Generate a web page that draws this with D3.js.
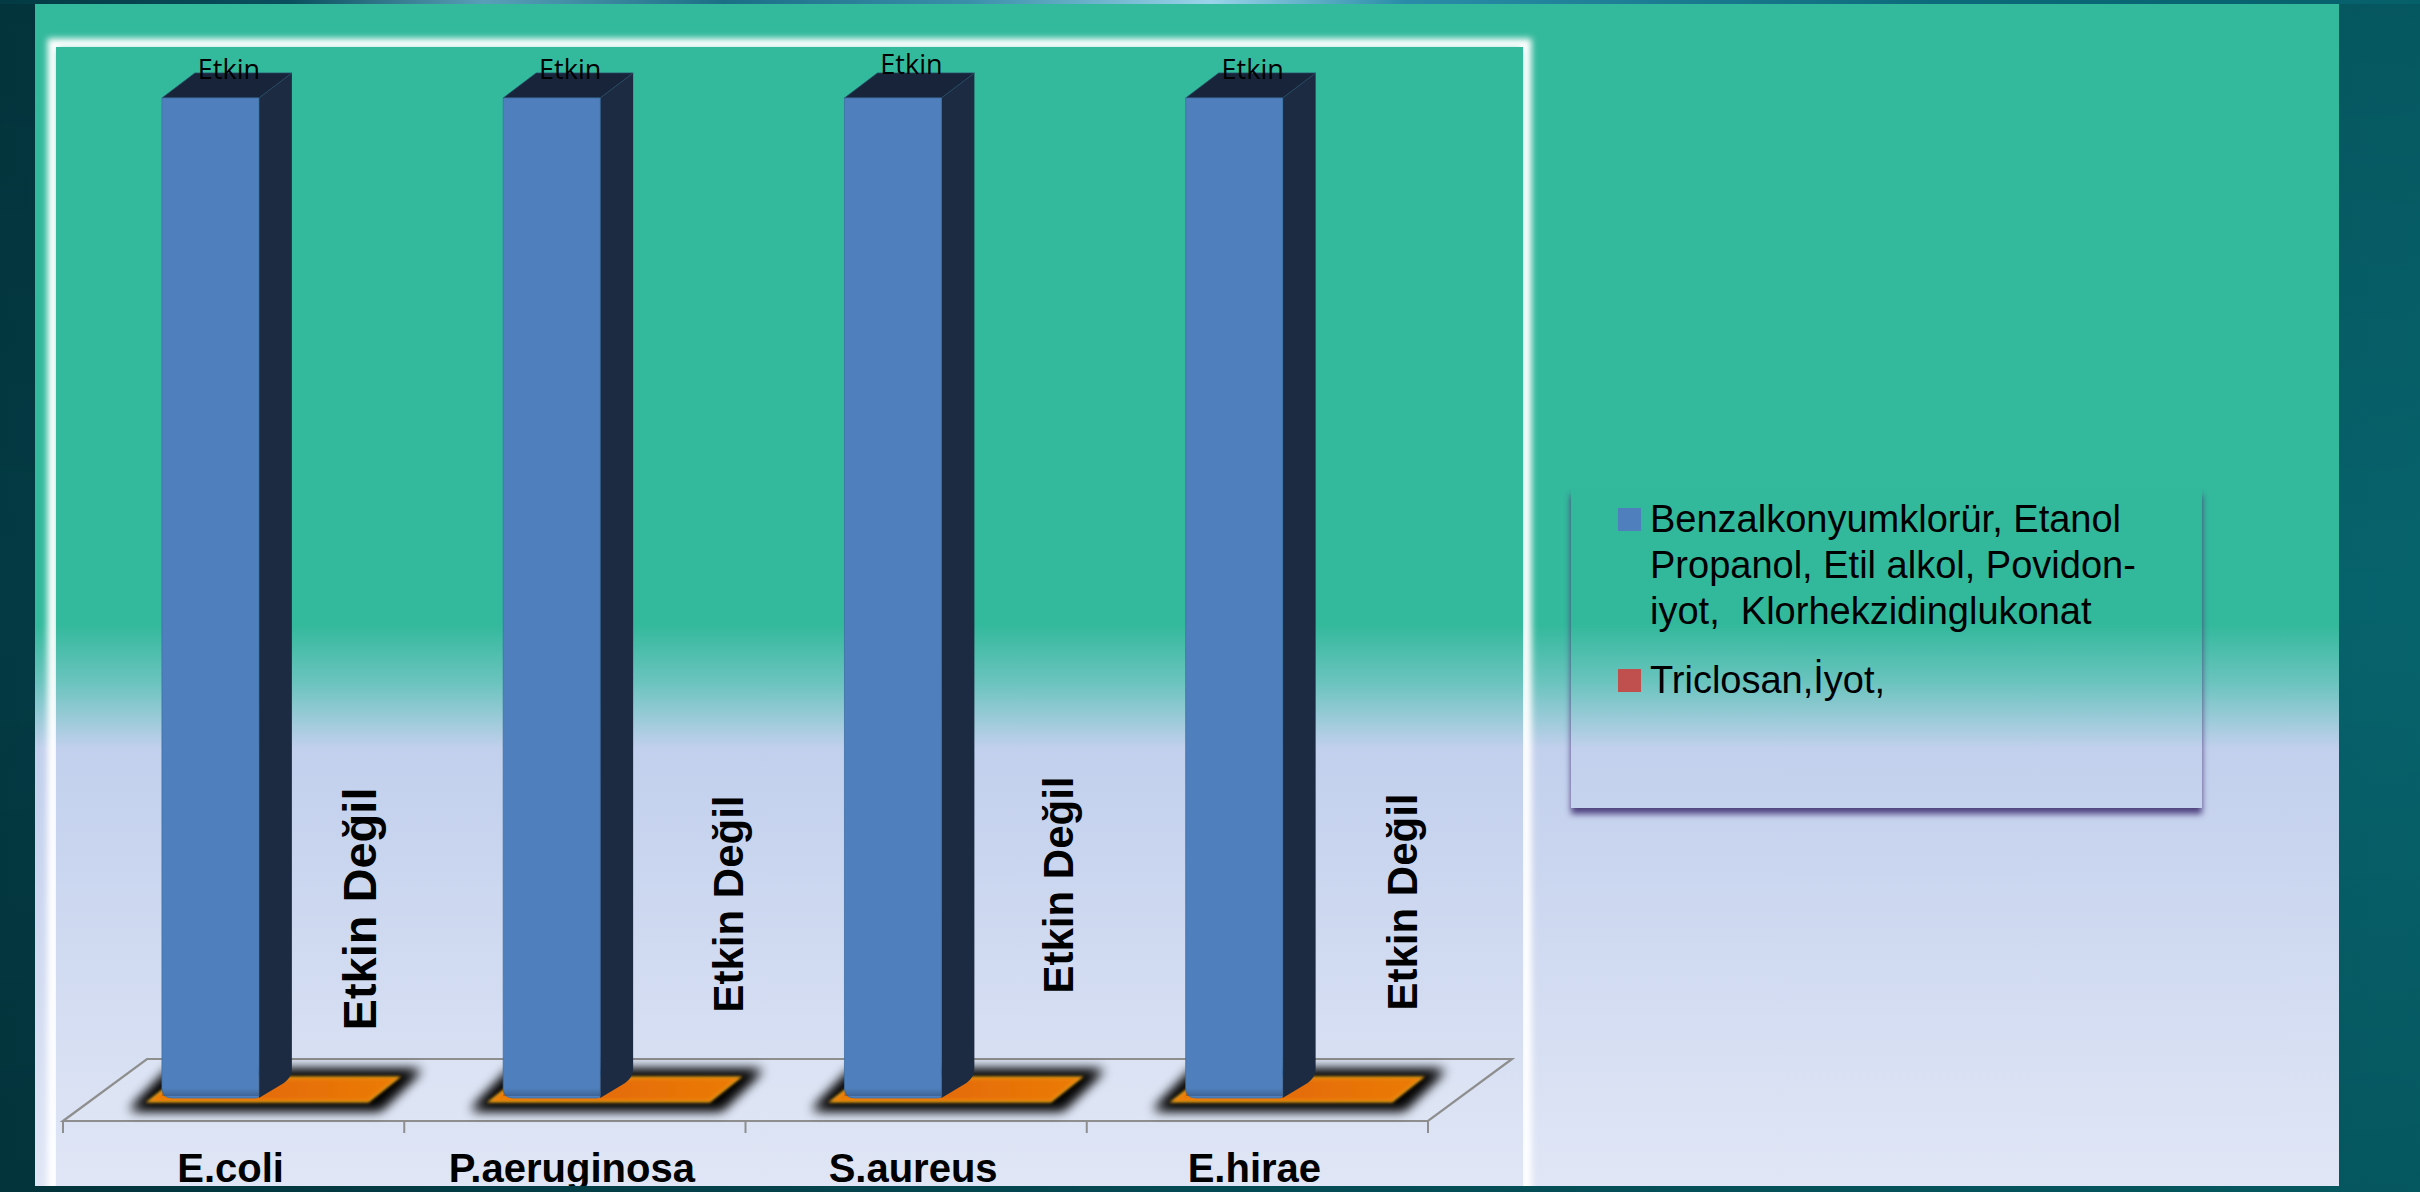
<!DOCTYPE html>
<html>
<head>
<meta charset="utf-8">
<script src="https://cdn.jsdelivr.net/npm/d3@7/dist/d3.min.js"></script>
<style>
  html, body { margin: 0; padding: 0; background: #043f48; overflow: hidden; }
  svg { display: block; }
</style>
</head>
<body>
<script>
// ---------------- DATA ----------------
const categories = ["E.coli", "P.aeruginosa", "S.aureus", "E.hirae"];
const activeValues = [1, 1, 1, 1];          // "Etkin" series
const inactiveValues = [0, 0, 0, 0];        // "Etkin Değil" series
const activeLabels = ["Etkin", "Etkin", "Etkin", "Etkin"];
const inactiveLabels = ["Etkin Değil", "Etkin Değil", "Etkin Değil", "Etkin Değil"];
const seriesNames = [
  "Benzalkonyumklorür, Etanol Propanol, Etil alkol, Povidon-iyot,  Klorhekzidinglukonat",
  "Triclosan,İyot,"
];
const legendLines = [
  ["Benzalkonyumklorür, Etanol", "Propanol, Etil alkol, Povidon-", "iyot,  Klorhekzidinglukonat"],
  ["Triclosan,İyot,"]
];

// ---------------- LAYOUT / STYLE ----------------
const W = 2420, H = 1192;
const colors = { front: "#4f80bd", side: "#1c2b41", top: "#17243a", orange: "#e66f0a", red: "#c0504d" };
const depth = { dx: 33, dy: -25 };
const flatDepth = { dx: 29, dy: -23 };
// per-label fine placement (layout only)
const degilDx = [313, 339, 327, 330];
const degilCy = [909, 904, 885, 902];
const degilSize = [47, 42, 42, 42];
const etkinDy = [0, 0, -5, 0];

const svg = d3.select("body").append("svg").attr("width", W).attr("height", H);
const defs = svg.append("defs");

// background gradient
const bg = defs.append("linearGradient").attr("id", "bgGrad").attr("x1", 0).attr("y1", 0).attr("x2", 1).attr("y2", 0);
bg.append("stop").attr("offset", 0).attr("stop-color", "#033a43");
bg.append("stop").attr("offset", 0.5).attr("stop-color", "#05545f");
bg.append("stop").attr("offset", 1).attr("stop-color", "#06636c");
const bgV = defs.append("linearGradient").attr("id", "bgV").attr("x1", 0).attr("y1", 0).attr("x2", 0).attr("y2", 1);
bgV.append("stop").attr("offset", 0).attr("stop-color", "#000").attr("stop-opacity", 0.12);
bgV.append("stop").attr("offset", 0.5).attr("stop-color", "#000").attr("stop-opacity", 0);
bgV.append("stop").attr("offset", 1).attr("stop-color", "#000").attr("stop-opacity", 0.12);

const topStrip = defs.append("linearGradient").attr("id", "topStrip").attr("x1", 0).attr("y1", 0).attr("x2", 1).attr("y2", 0);
[[0, "#033a43"], [0.12, "#0a4f5e"], [0.2, "#5a9fb8"], [0.3, "#1a6e86"], [0.4, "#3a8eaa"], [0.5, "#9ad4ea"], [0.58, "#2a8ca8"], [0.8, "#0c6a7a"], [1, "#06606a"]]
  .forEach(([o, c]) => topStrip.append("stop").attr("offset", o).attr("stop-color", c));

// panel gradient (user space so every shape shares it)
const pg = defs.append("linearGradient").attr("id", "panelGrad").attr("gradientUnits", "userSpaceOnUse")
  .attr("x1", 0).attr("y1", 4).attr("x2", 0).attr("y2", 1186);
[[0, "#33b99c"], [0.525, "#33b99c"], [0.575, "#6cc4bf"], [0.63, "#c2d0ed"], [1, "#e0e6f5"]]
  .forEach(([o, c]) => pg.append("stop").attr("offset", o).attr("stop-color", c));

// filters
const fw = defs.append("filter").attr("id", "whiteGlow").attr("x", -0.1).attr("y", -0.1).attr("width", 1.2).attr("height", 1.2);
fw.append("feGaussianBlur").attr("stdDeviation", 3);
const fb = defs.append("filter").attr("id", "blackGlow").attr("x", -0.3).attr("y", -1.5).attr("width", 1.6).attr("height", 4);
fb.append("feGaussianBlur").attr("stdDeviation", 6);
const fy = defs.append("filter").attr("id", "softRim").attr("x", -0.2).attr("y", -1).attr("width", 1.4).attr("height", 3);
fy.append("feGaussianBlur").attr("stdDeviation", 1.5);
const fl = defs.append("filter").attr("id", "legendShadow").attr("x", -0.05).attr("y", -0.05).attr("width", 1.1).attr("height", 1.15);
fl.append("feDropShadow").attr("dx", 0).attr("dy", 6).attr("stdDeviation", 3).attr("flood-color", "#4a3a78").attr("flood-opacity", 0.95);

const og = defs.append("linearGradient").attr("id", "orangeGrad").attr("x1", 0).attr("y1", 0).attr("x2", 1).attr("y2", 0);
og.append("stop").attr("offset", 0).attr("stop-color", "#f08a05");
og.append("stop").attr("offset", 0.5).attr("stop-color", "#e46a0b");
og.append("stop").attr("offset", 1).attr("stop-color", "#f28a00");

const bevel = defs.append("linearGradient").attr("id", "bevelGrad").attr("x1", 0).attr("y1", 0).attr("x2", 0).attr("y2", 1);
bevel.append("stop").attr("offset", 0).attr("stop-color", "#0b1a33").attr("stop-opacity", 0);
bevel.append("stop").attr("offset", 1).attr("stop-color", "#0b1a33").attr("stop-opacity", 0.45);

// clip to panel
defs.append("clipPath").attr("id", "panelClip").append("rect").attr("x", 35).attr("y", 4).attr("width", 2304).attr("height", 1182);

// ---------------- BACKGROUND ----------------
svg.append("rect").attr("width", W).attr("height", H).attr("fill", "url(#bgGrad)");
svg.append("rect").attr("width", W).attr("height", H).attr("fill", "url(#bgV)");
svg.append("rect").attr("x", 0).attr("y", 0).attr("width", W).attr("height", 4).attr("fill", "url(#topStrip)");
svg.append("rect").attr("x", 35).attr("y", 4).attr("width", 2304).attr("height", 1182).attr("fill", "url(#panelGrad)");

const panel = svg.append("g").attr("clip-path", "url(#panelClip)");

// plot area with white glow border
panel.append("rect").attr("x", 53).attr("y", 44).attr("width", 1473).attr("height", 1200)
  .attr("fill", "none").attr("stroke", "#ffffff").attr("stroke-width", 11).attr("filter", "url(#whiteGlow)");
panel.append("rect").attr("x", 56).attr("y", 47).attr("width", 1467).attr("height", 1200).attr("fill", "url(#panelGrad)");

// ---------------- SCALES ----------------
const x = d3.scaleBand().domain(categories).range([63, 1428]).paddingInner(0).paddingOuter(0);
const y = d3.scaleLinear().domain([0, 1]).range([1098, 98]);
const step = x.step();
const barOff = 0.29 * step, barW = 0.284 * step;

// floor
const floorFront = 1121, floorBack = 1059;
const floorPts = [[63, floorFront], [147, floorBack], [1512, floorBack], [1428, floorFront]];
panel.append("path").attr("d", d3.line()(floorPts) + "Z")
  .attr("fill", "#e2e8f6").attr("fill-opacity", 0.4).attr("stroke", "#8e8e8e").attr("stroke-width", 2.2);

// category axis ticks + labels
const axisG = panel.append("g").attr("transform", `translate(0,${floorFront})`);
const ticksX = categories.map(c => x(c)).concat([x.range()[1]]);
axisG.selectAll("line.tick").data(ticksX).join("line")
  .attr("x1", d => d).attr("x2", d => d).attr("y1", 0).attr("y2", 12)
  .attr("stroke", "#8e8e8e").attr("stroke-width", 2);
axisG.selectAll("text.cat").data(categories).join("text")
  .attr("class", "cat")
  .attr("x", d => x(d) + step / 2 - 3).attr("y", 61)
  .attr("text-anchor", "middle")
  .attr("font-family", "'Liberation Sans', Arial, sans-serif").attr("font-weight", "bold")
  .attr("font-size", 40).attr("fill", "#000").text(d => d);

// flat (zero) series: orange pads with black glow
const flat = panel.append("g");
categories.forEach((c, i) => {
  const b = x(c);
  const yf = y(inactiveValues[i]) + 3;
  const l = b + 87, r = b + 305;
  const pts = [[l, yf], [r, yf], [r + flatDepth.dx, yf + flatDepth.dy], [l + flatDepth.dx, yf + flatDepth.dy]];
  const big = [[l - 20, yf + 9], [r + 12, yf + 9], [r + flatDepth.dx + 24, yf + flatDepth.dy - 8], [l + flatDepth.dx - 10, yf + flatDepth.dy - 8]];
  flat.append("path").attr("d", d3.line()(big) + "Z").attr("fill", "#000").attr("filter", "url(#blackGlow)");
  flat.append("path").attr("d", d3.line()(big) + "Z").attr("fill", "#000").attr("opacity", 0.6).attr("filter", "url(#blackGlow)");
  flat.append("path").attr("d", d3.line()(pts) + "Z").attr("fill", "url(#orangeGrad)")
    .attr("stroke", "#f4a818").attr("stroke-width", 3).attr("filter", "url(#softRim)");
  flat.append("path").attr("d", d3.line()(pts) + "Z").attr("fill", colors.orange).attr("fill-opacity", 0.55);
});

// 3D blue bars
const bars = panel.append("g");
categories.forEach((c, i) => {
  const bx = x(c) + barOff;
  const top = y(activeValues[i]);
  const bot = y(0);
  const r = 10;
  const { dx, dy } = depth;
  // side
  bars.append("path")
    .attr("d", `M${bx + barW},${top} L${bx + barW + dx},${top + dy} L${bx + barW + dx},${bot + dy - 4} Q${bx + barW + dx},${bot + dy + 4} ${bx + barW + dx - 8},${bot + dy + 10} L${bx + barW},${bot} Z`)
    .attr("fill", colors.side);
  // top
  bars.append("path")
    .attr("d", d3.line()([[bx, top], [bx + dx, top + dy], [bx + barW + dx, top + dy], [bx + barW, top]]) + "Z")
    .attr("fill", colors.top).attr("stroke", "#2a4a66").attr("stroke-width", 0.8);
  // front
  bars.append("path")
    .attr("d", `M${bx},${top} L${bx + barW},${top} L${bx + barW},${bot - 2} Q${bx + barW},${bot} ${bx + barW - 4},${bot} L${bx + r},${bot} Q${bx},${bot} ${bx},${bot - r} Z`)
    .attr("fill", colors.front).attr("stroke", "#3f6ea6").attr("stroke-width", 0.8);
  bars.append("rect").attr("x", bx).attr("y", bot - 10).attr("width", barW).attr("height", 8)
    .attr("fill", "url(#bevelGrad)").attr("opacity", 0.6);
  // top label
  bars.append("text")
    .attr("x", bx + (barW + dx) / 2 + 2).attr("y", top + dy + 6 + etkinDy[i])
    .attr("text-anchor", "middle")
    .attr("font-family", "'Open Sans', 'Noto Sans', sans-serif").attr("font-size", 27)
    .attr("fill", "#000").text(activeLabels[i]);
});

// rotated "Etkin Değil" labels
const lab = panel.append("g");
categories.forEach((c, i) => {
  const bx = x(c) + degilDx[i];
  lab.append("text")
    .attr("transform", `translate(${bx},${degilCy[i]}) rotate(-90)`)
    .attr("text-anchor", "middle")
    .attr("font-family", "'Liberation Sans', Arial, sans-serif").attr("font-weight", "bold")
    .attr("font-size", degilSize[i]).attr("fill", "#000").text(inactiveLabels[i]);
});

// ---------------- LEGEND ----------------
const lg = svg.append("g");
lg.append("rect").attr("x", 1571).attr("y", 489).attr("width", 631).attr("height", 319)
  .attr("fill", "url(#panelGrad)").attr("filter", "url(#legendShadow)");
const legendColors = [colors.front, colors.red];
const itemTop = [532, 693];
legendLines.forEach((lines, k) => {
  lg.append("rect").attr("x", 1618).attr("y", itemTop[k] - 24).attr("width", 23).attr("height", 23)
    .attr("fill", legendColors[k]);
  const t = lg.append("text")
    .attr("font-family", "'Liberation Sans', Arial, sans-serif").attr("font-size", 38)
    .attr("fill", "#000").attr("xml:space", "preserve").style("white-space", "pre");
  t.append("title").text(seriesNames[k]);
  lines.forEach((ln, j) => {
    t.append("tspan").attr("x", 1650).attr("y", itemTop[k] + j * 46).text(ln);
  });
});
</script>
</body>
</html>
